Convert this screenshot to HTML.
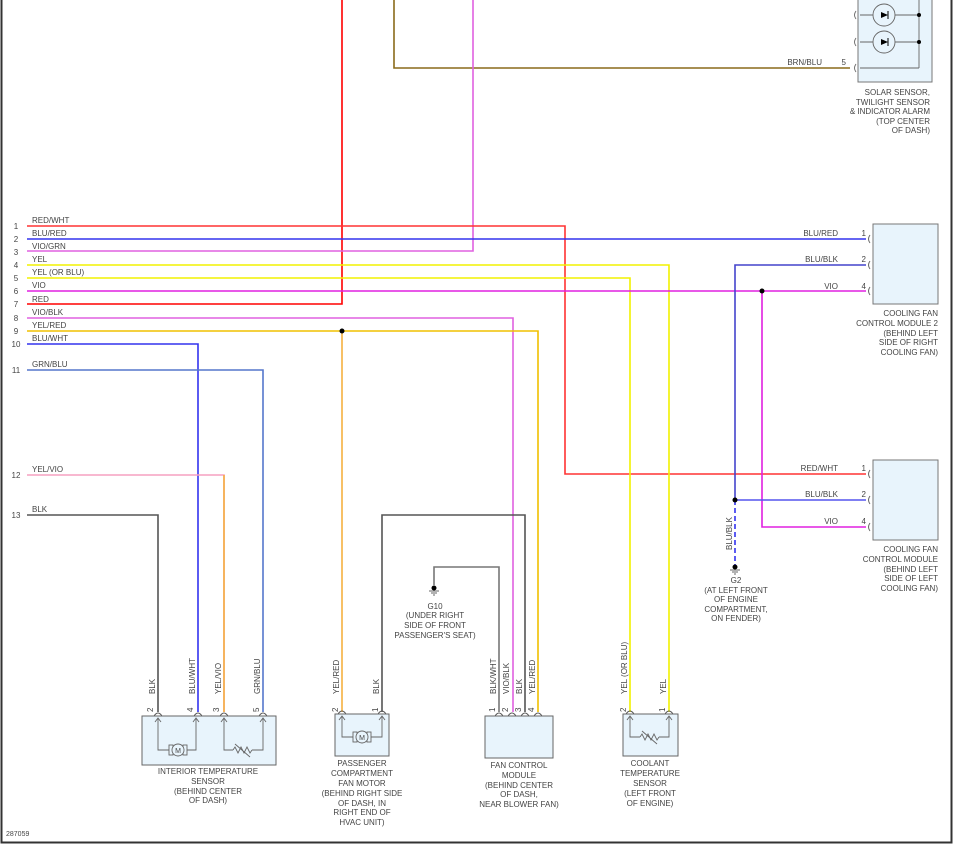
<!DOCTYPE html>
<html><head><meta charset="utf-8"><style>
html,body{margin:0;padding:0;background:#fff;}
svg{display:block;}
text{font-family:"Liberation Sans",sans-serif;font-size:8px;fill:#444;}
.c{text-anchor:middle;}
.r{text-anchor:end;}
</style></head><body>
<svg width="965" height="850" viewBox="0 0 965 850" xmlns="http://www.w3.org/2000/svg">
<rect x="0" y="0" width="965" height="850" fill="#fff"/>
<!-- frame -->
<path d="M1.5 0 V842.5 H951.5 V0" fill="none" stroke="#333" stroke-width="2"/>
<g fill="none" stroke-width="1.6">
<!-- top verticals -->
<path d="M342 0 V304 H27" stroke="#f00"/>
<path d="M394 0 V68 H850" stroke="#8a6a1a"/>
<path d="M473 0 V251 H27" stroke="#e060e0"/>
<!-- rows -->
<path d="M27 226 H565 V474 H866" stroke="#f33"/>
<path d="M27 239 H866" stroke="#3333ee"/>
<path d="M27 265 H669 V712" stroke="#f2f200"/>
<path d="M27 278 H630 V712" stroke="#f2f200"/>
<path d="M27 291 H866" stroke="#e020e0"/>
<path d="M762 291 V527 H866" stroke="#e020e0"/>
<path d="M27 318 H513 V712" stroke="#e060e0"/>
<path d="M27 331 H538 V712" stroke="#f0c000"/>
<path d="M342 331 V712" stroke="#f5b040"/>
<path d="M27 344 H198 V712" stroke="#3333ee"/>
<path d="M27 370 H263 V712" stroke="#5577cc"/>
<path d="M27 475 H224 V712" stroke="#f5a0c0"/>
<path d="M224 475 V712" stroke="#f5b040"/>
<path d="M27 515 H158 V712" stroke="#555"/>
<path d="M382 712 V515 H525 V712" stroke="#555"/>
<path d="M434 585 V567 H499 V712" stroke="#777"/>
<path d="M735 500 V265 H866" stroke="#4444cc"/>
<path d="M735 500 H866" stroke="#5555ee"/>
<path d="M735 500 V565" stroke="#3333ee" stroke-dasharray="5,3"/>
</g>
<!-- junctions -->
<g fill="#000">
<circle cx="342" cy="331" r="2.5"/><circle cx="762" cy="291" r="2.5"/><circle cx="735" cy="500" r="2.5"/>
<circle cx="434" cy="588" r="2.5"/><circle cx="735" cy="567" r="2.5"/>
</g>
<g stroke="#333" stroke-width="0.8">
<path d="M429 591 H439 M431 593 H437 M433 595 H435"/>
<path d="M730 570 H740 M732 572 H738 M734 574 H736"/>
</g>
<!-- row labels -->
<g>
<text x="16" y="229" class="c">1</text><text x="16" y="242" class="c">2</text><text x="16" y="255" class="c">3</text>
<text x="16" y="268" class="c">4</text><text x="16" y="281" class="c">5</text><text x="16" y="294" class="c">6</text>
<text x="16" y="307" class="c">7</text><text x="16" y="321" class="c">8</text><text x="16" y="334" class="c">9</text>
<text x="16" y="347" class="c">10</text><text x="16" y="373" class="c">11</text><text x="16" y="478" class="c">12</text>
<text x="16" y="518" class="c">13</text>
<text x="32" y="223">RED/WHT</text><text x="32" y="236">BLU/RED</text><text x="32" y="249">VIO/GRN</text>
<text x="32" y="262">YEL</text><text x="32" y="275">YEL  (OR BLU)</text><text x="32" y="288">VIO</text>
<text x="32" y="302">RED</text><text x="32" y="315">VIO/BLK</text><text x="32" y="328">YEL/RED</text>
<text x="32" y="341">BLU/WHT</text><text x="32" y="367">GRN/BLU</text><text x="32" y="472">YEL/VIO</text>
<text x="32" y="512">BLK</text>
</g>
<!-- solar sensor -->
<rect x="858" y="-2" width="74" height="84" fill="#e8f4fc" stroke="#777"/>
<g stroke="#666" fill="none" stroke-width="0.9">
<path d="M860 15 H919 M860 42 H919 M860 68 H919 M919 0 V68"/>
<circle cx="884" cy="15" r="11" fill="#e8f4fc"/><circle cx="884" cy="42" r="11" fill="#e8f4fc"/>
<path d="M856 11 Q853 15 856 19 M856 38 Q853 42 856 46 M856 64 Q853 68 856 72"/>
</g>
<g fill="#000"><circle cx="919" cy="15" r="2"/><circle cx="919" cy="42" r="2"/>
<path d="M881 12 L888 15 L881 18Z"/><path d="M881 39 L888 42 L881 45Z"/></g>
<path d="M888 11 V19 M888 38 V46" stroke="#000"/>
<text x="822" y="65" class="r">BRN/BLU</text><text x="846" y="65" class="r">5</text>
<g class="r"><text x="930" y="95" class="r">SOLAR SENSOR,</text><text x="930" y="105" class="r">TWILIGHT SENSOR</text><text x="930" y="114" class="r">&amp; INDICATOR ALARM</text><text x="930" y="124" class="r">(TOP CENTER</text><text x="930" y="133" class="r">OF DASH)</text></g>
<!-- cooling fan module 2 -->
<rect x="873" y="224" width="65" height="80" fill="#e8f4fc" stroke="#777"/>
<g stroke="#666" fill="none"><path d="M870 235 Q867 239 870 243 M870 261 Q867 265 870 269 M870 287 Q867 291 870 295"/></g>
<text x="838" y="236" class="r">BLU/RED</text><text x="866" y="236" class="r">1</text>
<text x="838" y="262" class="r">BLU/BLK</text><text x="866" y="262" class="r">2</text>
<text x="838" y="289" class="r">VIO</text><text x="866" y="289" class="r">4</text>
<text x="938" y="316" class="r">COOLING FAN</text><text x="938" y="326" class="r">CONTROL MODULE 2</text><text x="938" y="336" class="r">(BEHIND LEFT</text><text x="938" y="345" class="r">SIDE OF RIGHT</text><text x="938" y="355" class="r">COOLING FAN)</text>
<!-- cooling fan module -->
<rect x="873" y="460" width="65" height="80" fill="#e8f4fc" stroke="#777"/>
<g stroke="#666" fill="none"><path d="M870 470 Q867 474 870 478 M870 496 Q867 500 870 504 M870 523 Q867 527 870 531"/></g>
<text x="838" y="471" class="r">RED/WHT</text><text x="866" y="471" class="r">1</text>
<text x="838" y="497" class="r">BLU/BLK</text><text x="866" y="497" class="r">2</text>
<text x="838" y="524" class="r">VIO</text><text x="866" y="524" class="r">4</text>
<text x="938" y="552" class="r">COOLING FAN</text><text x="938" y="562" class="r">CONTROL MODULE</text><text x="938" y="572" class="r">(BEHIND LEFT</text><text x="938" y="581" class="r">SIDE OF LEFT</text><text x="938" y="591" class="r">COOLING FAN)</text>
<!-- G2 -->
<text transform="translate(732,550) rotate(-90)">BLU/BLK</text>
<text x="736" y="583" class="c">G2</text><text x="736" y="593" class="c">(AT LEFT FRONT</text><text x="736" y="602" class="c">OF ENGINE</text><text x="736" y="612" class="c">COMPARTMENT,</text><text x="736" y="621" class="c">ON FENDER)</text>
<!-- G10 -->
<text x="435" y="609" class="c">G10</text><text x="435" y="618" class="c">(UNDER RIGHT</text><text x="435" y="628" class="c">SIDE OF FRONT</text><text x="435" y="638" class="c">PASSENGER'S SEAT)</text>
<!-- connector forks -->
<g stroke="#555" fill="none" stroke-width="0.9">
<path d="M154 716 Q158 710 162 716 M194 716 Q198 710 202 716 M220 716 Q224 710 228 716 M259 716 Q263 710 267 716"/>
<path d="M338 714 Q342 708 346 714 M378 714 Q382 708 386 714"/>
<path d="M495 716 Q499 710 503 716 M508 716 Q512 710 516 716 M521 716 Q525 710 529 716 M534 716 Q538 710 542 716"/>
<path d="M626 714 Q630 708 634 714 M665 714 Q669 708 673 714"/>
</g>
<!-- interior temp sensor -->
<rect x="142" y="716" width="134" height="49" fill="#e8f4fc" stroke="#666"/>
<g stroke="#666" fill="none" stroke-width="0.9">
<path d="M158 718 V750 H169 M187 750 H196 V718 M224 718 V750 H233 M252 750 H263 V718"/>
<rect x="169" y="745" width="4" height="10"/><rect x="183" y="745" width="4" height="10"/>
<circle cx="178" cy="750" r="6" fill="#e8f4fc"/>
<path d="M233 750 l2 -3 l3 6 l3 -6 l3 6 l3 -6 l3 6 l2 -3 M235 744 L250 757"/>
<path d="M155 722 L158 718 L161 722 M193 722 L196 718 L199 722 M221 722 L224 718 L227 722 M260 722 L263 718 L266 722"/>
</g>
<text x="178" y="753" class="c" style="font-size:7px">M</text>
<text transform="translate(155,694) rotate(-90)">BLK</text>
<text transform="translate(195,694) rotate(-90)">BLU/WHT</text>
<text transform="translate(221,694) rotate(-90)">YEL/VIO</text>
<text transform="translate(260,694) rotate(-90)">GRN/BLU</text>
<text transform="translate(153,712) rotate(-90)">2</text><text transform="translate(193,712) rotate(-90)">4</text>
<text transform="translate(219,712) rotate(-90)">3</text><text transform="translate(259,712) rotate(-90)">5</text>
<text x="208" y="774" class="c">INTERIOR TEMPERATURE</text><text x="208" y="784" class="c">SENSOR</text><text x="208" y="794" class="c">(BEHIND CENTER</text><text x="208" y="803" class="c">OF DASH)</text>
<!-- fan motor -->
<rect x="335" y="714" width="54" height="42" fill="#e8f4fc" stroke="#666"/>
<g stroke="#666" fill="none" stroke-width="0.9">
<path d="M342 716 V737 H353 M371 737 H382 V716"/>
<rect x="353" y="732" width="4" height="10"/><rect x="367" y="732" width="4" height="10"/>
<circle cx="362" cy="737" r="6" fill="#e8f4fc"/>
<path d="M339 720 L342 716 L345 720 M379 720 L382 716 L385 720"/>
</g>
<text x="362" y="740" class="c" style="font-size:7px">M</text>
<text transform="translate(339,694) rotate(-90)">YEL/RED</text>
<text transform="translate(379,694) rotate(-90)">BLK</text>
<text transform="translate(338,712) rotate(-90)">2</text><text transform="translate(378,712) rotate(-90)">1</text>
<text x="362" y="766" class="c">PASSENGER</text><text x="362" y="776" class="c">COMPARTMENT</text><text x="362" y="786" class="c">FAN MOTOR</text><text x="362" y="796" class="c">(BEHIND RIGHT SIDE</text><text x="362" y="806" class="c">OF DASH, IN</text><text x="362" y="815" class="c">RIGHT END OF</text><text x="362" y="825" class="c">HVAC UNIT)</text>
<!-- fan control module -->
<rect x="485" y="716" width="68" height="42" fill="#e8f4fc" stroke="#666"/>
<text transform="translate(496,694) rotate(-90)">BLK/WHT</text>
<text transform="translate(509,694) rotate(-90)">VIO/BLK</text>
<text transform="translate(522,694) rotate(-90)">BLK</text>
<text transform="translate(535,694) rotate(-90)">YEL/RED</text>
<text transform="translate(495,712) rotate(-90)">1</text><text transform="translate(508,712) rotate(-90)">2</text>
<text transform="translate(521,712) rotate(-90)">3</text><text transform="translate(534,712) rotate(-90)">4</text>
<text x="519" y="768" class="c">FAN CONTROL</text><text x="519" y="778" class="c">MODULE</text><text x="519" y="788" class="c">(BEHIND CENTER</text><text x="519" y="797" class="c">OF DASH,</text><text x="519" y="807" class="c">NEAR BLOWER FAN)</text>
<!-- coolant temp sensor -->
<rect x="623" y="714" width="55" height="42" fill="#e8f4fc" stroke="#666"/>
<g stroke="#666" fill="none" stroke-width="0.9">
<path d="M630 716 V737 H640 M659 737 H669 V716"/>
<path d="M640 737 l2 -3 l3 6 l3 -6 l3 6 l3 -6 l3 6 l2 -3 M642 731 L657 744"/>
<path d="M627 720 L630 716 L633 720 M666 720 L669 716 L672 720"/>
</g>
<text transform="translate(627,694) rotate(-90)">YEL  (OR BLU)</text>
<text transform="translate(666,694) rotate(-90)">YEL</text>
<text transform="translate(626,712) rotate(-90)">2</text><text transform="translate(665,712) rotate(-90)">1</text>
<text x="650" y="766" class="c">COOLANT</text><text x="650" y="776" class="c">TEMPERATURE</text><text x="650" y="786" class="c">SENSOR</text><text x="650" y="796" class="c">(LEFT FRONT</text><text x="650" y="806" class="c">OF ENGINE)</text>
<text x="6" y="836" style="font-size:7px">287059</text>
</svg>
</body></html>
